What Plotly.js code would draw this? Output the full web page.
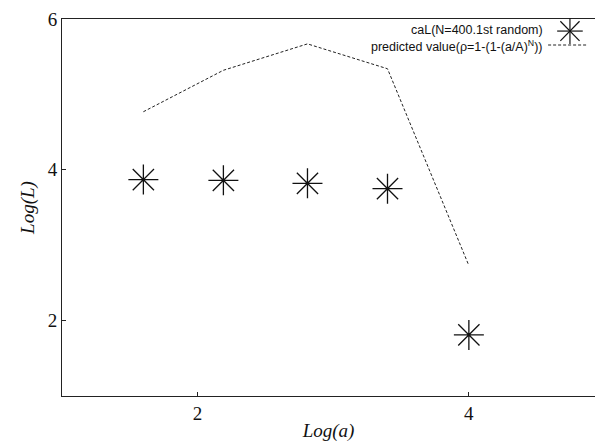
<!DOCTYPE html>
<html><head><meta charset="utf-8">
<script src="https://cdn.plot.ly/plotly-3.0.1.min.js"></script>
<style>html,body{margin:0;padding:0;background:#fff}</style>
</head><body>
<div id="chart" style="width:595px;height:446px"></div>
<script>
const logA = [1.60, 2.19, 2.81, 3.40, 4.00];
const calL = [3.87, 3.86, 3.82, 3.75, 1.81];
const predictedL = [4.77, 5.32, 5.67, 5.34, 2.73];
const xTicks = [2, 4];
const yTicks = [2, 4, 6];
const legendLabels = ["caL(N=400.1st random)", "predicted value(\u03c1=1-(1-(a/A)<sup>N</sup>))"];

const traces = [
  {x: logA, y: calL, mode: 'markers', name: legendLabels[0], showlegend: false,
   marker: {symbol: 'asterisk-open', size: 25, color: '#111', line: {color: '#111', width: 1.3}}},
  {x: logA, y: predictedL, mode: 'lines', name: legendLabels[1], showlegend: false,
   line: {color: '#222', width: 1, dash: '3px,2px'}}
];

const layout = {
  width: 595, height: 446,
  margin: {l: 62, r: 0, t: 19, b: 50},
  paper_bgcolor: '#fff', plot_bgcolor: '#fff',
  showlegend: false,
  xaxis: {range: [1, 4.93], tickvals: xTicks, ticktext: xTicks.map(String),
    ticks: 'inside', ticklen: 4, tickcolor: '#222', showgrid: false, zeroline: false,
    showline: true, linecolor: '#222', linewidth: 1, mirror: true,
    tickfont: {family: 'Liberation Serif', size: 19, color: '#111'},
    title: {text: '<i>Log(a)</i>', font: {family: 'Liberation Serif', size: 19, color: '#111'}, standoff: 0}},
  yaxis: {range: [1, 6], tickvals: yTicks, ticktext: yTicks.map(String),
    ticks: 'inside', ticklen: 4, tickcolor: '#222', showgrid: false, zeroline: false,
    showline: true, linecolor: '#222', linewidth: 1, mirror: true,
    tickfont: {family: 'Liberation Serif', size: 19, color: '#111'},
    title: {text: '<i>Log(L)</i>', font: {family: 'Liberation Serif', size: 19, color: '#111'}, standoff: 8}},
  annotations: [
    {xref: 'paper', yref: 'paper', x: 0.906, y: 0.971, xanchor: 'right', yanchor: 'middle',
     text: legendLabels[0], showarrow: false, font: {family: 'Liberation Sans', size: 12.5, color: '#111'}},
    {xref: 'paper', yref: 'paper', x: 0.906, y: 0.929, xanchor: 'right', yanchor: 'middle',
     text: legendLabels[1], showarrow: false, font: {family: 'Liberation Sans', size: 12.5, color: '#111'}}
  ],
  shapes: [
    // legend asterisk glyph
    {type: 'line', xref: 'paper', yref: 'paper', x0: 0.929, x1: 0.977, y0: 0.968, y1: 0.968, line: {color: '#111', width: 1.2}},
    {type: 'line', xref: 'paper', yref: 'paper', x0: 0.953, x1: 0.953, y0: 0.934, y1: 1.002, line: {color: '#111', width: 1.2}},
    {type: 'line', xref: 'paper', yref: 'paper', x0: 0.935, x1: 0.971, y0: 0.942, y1: 0.994, line: {color: '#111', width: 1.2}},
    {type: 'line', xref: 'paper', yref: 'paper', x0: 0.935, x1: 0.971, y0: 0.994, y1: 0.942, line: {color: '#111', width: 1.2}},
    // legend dashed line glyph
    {type: 'line', xref: 'paper', yref: 'paper', x0: 0.912, x1: 0.987, y0: 0.931, y1: 0.931, line: {color: '#222', width: 1, dash: '3px,2px'}}
  ]
};

Plotly.newPlot('chart', traces, layout, {displayModeBar: false, staticPlot: true});
</script>
</body></html>
